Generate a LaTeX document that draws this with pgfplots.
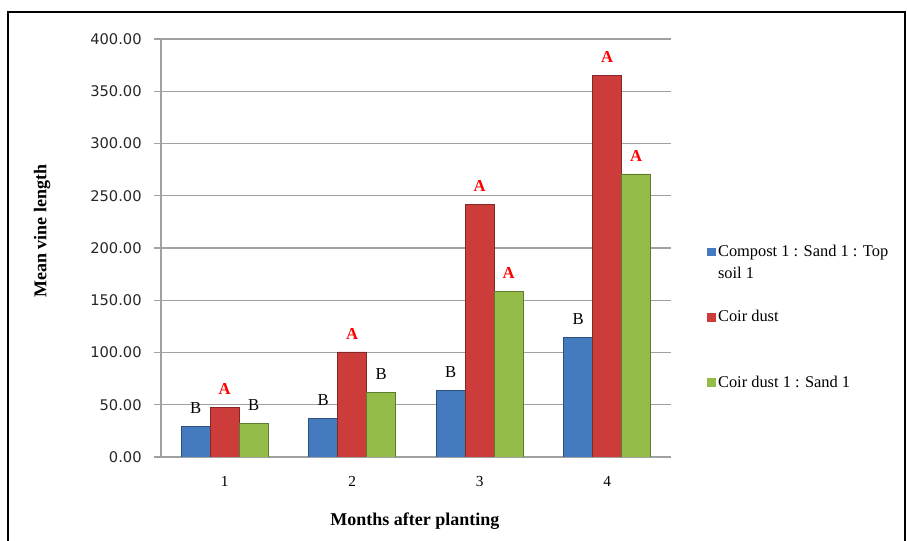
\documentclass[border=0pt]{standalone}
\usepackage{pgfplots}
\pgfplotsset{compat=1.18}
\usepackage{fontspec}
\setmainfont{Liberation Serif}
\newfontfamily\tickfont{DejaVu Sans}
\definecolor{cblue}{RGB}{68,122,190}
\definecolor{cred}{RGB}{204,60,58}
\definecolor{cgreen}{RGB}{148,188,72}
\definecolor{gridgray}{RGB}{160,160,160}
\newcommand{\barlabel}[1]{\def\tmpA{A}\edef\tmpx{#1}\ifx\tmpx\tmpA\textcolor{red}{\bfseries A}\else B\fi}
\begin{document}
\begin{tikzpicture}
\path[use as bounding box] (0,0) rectangle (680.25pt,405.75pt);
\draw[line width=1.5pt] (6pt,-3pt) -- (6pt,396.75pt) -- (678.75pt,396.75pt) -- (678.75pt,-3pt);
\begin{axis}[
  at={(120.75pt,63pt)}, anchor=south west,
  scale only axis, width=382.5pt, height=313.5pt,
  ybar=0pt, bar width=21.75pt,
  xmin=0.5, xmax=4.5, ymin=0, ymax=400,
  xtick={1,2,3,4}, xticklabels={1,2,3,4},
  ytick={0,50,...,400},
  axis lines*=left,
  axis line style={gridgray, line width=0.8pt},
  ymajorgrids, grid style={gridgray, line width=0.8pt},
  yticklabel style={/pgf/number format/fixed, /pgf/number format/fixed zerofill, /pgf/number format/precision=2, /pgf/number format/1000 sep={}, xshift=-6pt, font=\tickfont\fontsize{11}{13}\selectfont, text=black!85},
  /pgf/number format/assume math mode=true,
  xticklabel style={yshift=-6pt, font=\fontsize{11.5}{13}\selectfont},
  tick align=outside,
  ytick style={gridgray, line width=0.8pt},
  major tick length=5pt,
  xtick style={draw=none},
  ylabel={Mean vine length},
  xlabel={Months after planting},
  label style={font=\bfseries\fontsize{13.5}{15}\selectfont},
  ylabel style={at={(axis description cs:-0.233,0.54)}, anchor=center},
  xlabel style={at={(axis description cs:0.498,-0.153)}, anchor=center},
  point meta=explicit symbolic,
  nodes near coords={\barlabel{\pgfplotspointmeta}},
  nodes near coords style={font=\fontsize{12.5}{14}\selectfont, yshift=6pt},
  legend cell align=left,
  legend style={at={(1.063,0.52)}, anchor=north west, draw=none, fill=none,
    font=\fontsize{12.3}{16.5}\selectfont, row sep=18.4pt,
    nodes={align=left}},
]
\addplot[fill=cblue, draw=cblue!65!black, line width=0.4pt,
  legend image code/.code={\fill[cblue] (0pt,5.45pt) rectangle (5.6pt,11pt);}]
  coordinates {(1,29) [B] (2,37.3) [B] (3,64) [B] (4,114.5) [B]};
\addlegendentry{Compost 1 : Sand 1 : Top\\soil 1}
\addplot[fill=cred, draw=cred!65!black, line width=0.4pt,
  legend image code/.code={\fill[cred] (0pt,5.45pt) rectangle (5.6pt,11pt);}]
  coordinates {(1,47.6) [A] (2,100.5) [A] (3,241.5) [A] (4,365.5) [A]};
\addlegendentry{Coir dust\\\strut}
\addplot[fill=cgreen, draw=cgreen!65!black, line width=0.4pt,
  legend image code/.code={\fill[cgreen] (0pt,-2.8pt) rectangle (5.6pt,2.8pt);}]
  coordinates {(1,32) [B] (2,61.5) [B] (3,158.5) [A] (4,271) [A]};
\addlegendentry{Coir dust 1 : Sand 1}
\end{axis}
\end{tikzpicture}
\end{document}
